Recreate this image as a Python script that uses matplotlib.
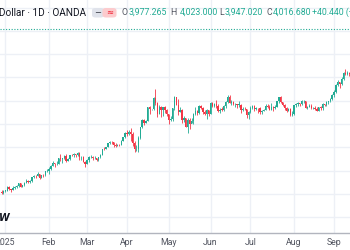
import matplotlib
matplotlib.use("Agg")
import matplotlib.pyplot as plt
from matplotlib.patches import FancyBboxPatch
import numpy as np
import pandas as pd

# ---- data (XAU/USD daily) ----
start_date = "2024-12-30"
end_date = "2025-09-11"
opens = [2621, 2606, 2624, 2625, 2658, 2640, 2635, 2649, 2661, 2669, 2690, 2663, 2677, 2697, 2715, 2702, 2708, 2745, 2755, 2754, 2770, 2740, 2763, 2760, 2794,
         2798, 2815, 2842, 2867, 2856, 2861, 2907, 2898, 2905, 2928, 2882, 2897, 2935, 2934, 2939, 2936, 2951, 2915, 2916, 2876,
         2858, 2893, 2918, 2920, 2910, 2910, 2890, 2916, 2934, 2988, 2984, 3001, 3034, 3048, 3044, 3023, 3011, 3020, 3019, 3057, 3085,
         3124, 3113, 3134, 3114, 3037, 2982, 2982, 3082, 3175, 3237, 3210, 3229, 3343, 3327, 3327, 3424, 3380, 3288, 3349, 3319, 3343, 3317,
         3288, 3239, 3241, 3334, 3431, 3365, 3306, 3325, 3235, 3249, 3178, 3239, 3202, 3229, 3289, 3314, 3294, 3357, 3342, 3301, 3288, 3318,
         3289, 3381, 3353, 3373, 3352, 3310, 3325, 3323, 3355, 3386, 3433, 3385, 3389, 3369, 3369, 3368, 3368, 3323, 3332, 3328, 3274,
         3303, 3338, 3357, 3326, 3337, 3335, 3301, 3313, 3325, 3355, 3343, 3324, 3347, 3339, 3350, 3397, 3431, 3388, 3368, 3337, 3314, 3326, 3275,
         3289, 3363, 3373, 3381, 3370, 3396, 3398, 3342, 3348, 3356, 3335, 3336, 3332, 3315, 3348, 3339, 3372, 3365, 3393, 3397, 3416,
         3448, 3477, 3533, 3559, 3546, 3587, 3636, 3627, 3640]
highs = [2634, 2630, 2633, 2665, 2665, 2646, 2665, 2671, 2675, 2697, 2694, 2680, 2700, 2725, 2717, 2718, 2746, 2763, 2763, 2786, 2772, 2765, 2770, 2799, 2817,
         2830, 2845, 2882, 2870, 2886, 2911, 2942, 2910, 2933, 2943, 2906, 2936, 2947, 2955, 2943, 2957, 2956, 2930, 2923, 2883,
         2896, 2928, 2931, 2926, 2930, 2912, 2921, 2940, 2990, 3005, 3002, 3038, 3055, 3057, 3047, 3036, 3033, 3033, 3060, 3087, 3128,
         3149, 3149, 3168, 3136, 3055, 3023, 3099, 3176, 3245, 3245, 3232, 3346, 3357, 3331, 3430, 3500, 3386, 3368, 3352, 3350, 3353, 3328,
         3290, 3269, 3336, 3437, 3435, 3414, 3347, 3327, 3266, 3252, 3252, 3253, 3250, 3296, 3345, 3325, 3366, 3366, 3350, 3325, 3330, 3325,
         3393, 3392, 3385, 3403, 3375, 3340, 3349, 3360, 3396, 3446, 3451, 3403, 3396, 3377, 3374, 3398, 3370, 3347, 3350, 3329, 3310,
         3358, 3365, 3366, 3345, 3342, 3345, 3317, 3330, 3369, 3375, 3366, 3377, 3352, 3361, 3402, 3434, 3439, 3393, 3373, 3345, 3334, 3334, 3315,
         3363, 3385, 3390, 3385, 3409, 3409, 3400, 3358, 3369, 3375, 3347, 3358, 3345, 3350, 3351, 3379, 3376, 3394, 3398, 3423, 3454,
         3490, 3540, 3578, 3563, 3600, 3646, 3674, 3658, 3650]
lows = [2597, 2603, 2620, 2624, 2634, 2615, 2631, 2646, 2655, 2658, 2656, 2660, 2671, 2695, 2696, 2697, 2704, 2741, 2740, 2752, 2730, 2736, 2746, 2754, 2788,
        2772, 2809, 2839, 2834, 2852, 2860, 2880, 2864, 2896, 2876, 2880, 2895, 2922, 2920, 2919, 2929, 2889, 2894, 2871, 2833,
        2856, 2878, 2905, 2895, 2896, 2880, 2880, 2906, 2932, 2976, 2982, 2999, 3027, 3030, 2999, 3002, 3008, 3012, 3017, 3055, 3077,
        3100, 3104, 3054, 3016, 2957, 2970, 2957, 3073, 3167, 3194, 3205, 3228, 3283, 3320, 3325, 3368, 3260, 3284, 3265, 3268, 3297, 3269,
        3202, 3223, 3228, 3324, 3365, 3280, 3304, 3208, 3216, 3171, 3121, 3154, 3206, 3203, 3276, 3278, 3288, 3332, 3286, 3276, 3245, 3271,
        3289, 3343, 3346, 3339, 3307, 3293, 3316, 3315, 3338, 3385, 3381, 3366, 3362, 3347, 3340, 3347, 3295, 3312, 3317, 3255, 3247,
        3297, 3331, 3311, 3322, 3296, 3287, 3283, 3309, 3322, 3340, 3320, 3319, 3310, 3333, 3345, 3383, 3381, 3351, 3325, 3301, 3308, 3268, 3268,
        3281, 3346, 3354, 3358, 3366, 3380, 3341, 3331, 3344, 3331, 3330, 3323, 3315, 3311, 3324, 3321, 3351, 3351, 3370, 3386, 3408,
        3436, 3470, 3525, 3511, 3533, 3581, 3620, 3620, 3615]
closes = [2606, 2624, 2630, 2658, 2640, 2635, 2649, 2661, 2669, 2690, 2663, 2677, 2697, 2715, 2702, 2708, 2745, 2755, 2754, 2770, 2740, 2763, 2760, 2794, 2798,
          2815, 2842, 2867, 2856, 2861, 2907, 2898, 2905, 2928, 2882, 2897, 2935, 2934, 2939, 2936, 2951, 2915, 2916, 2876, 2858,
          2893, 2918, 2920, 2910, 2910, 2890, 2916, 2934, 2988, 2984, 3001, 3034, 3048, 3044, 3023, 3011, 3020, 3019, 3057, 3085, 3124,
          3113, 3134, 3114, 3037, 2982, 2982, 3082, 3175, 3237, 3210, 3229, 3343, 3327, 3327, 3424, 3380, 3288, 3349, 3319, 3343, 3317, 3288,
          3239, 3241, 3334, 3431, 3365, 3306, 3325, 3235, 3249, 3178, 3239, 3202, 3229, 3289, 3314, 3294, 3357, 3342, 3301, 3288, 3318, 3289,
          3381, 3353, 3373, 3352, 3310, 3325, 3323, 3355, 3386, 3433, 3385, 3389, 3369, 3369, 3368, 3368, 3323, 3332, 3328, 3274, 3303,
          3338, 3357, 3326, 3337, 3335, 3301, 3313, 3325, 3355, 3343, 3324, 3347, 3339, 3350, 3397, 3431, 3388, 3368, 3337, 3314, 3326, 3275, 3289,
          3363, 3373, 3381, 3370, 3396, 3398, 3342, 3348, 3356, 3335, 3336, 3332, 3315, 3348, 3339, 3372, 3365, 3393, 3397, 3416, 3448,
          3477, 3533, 3559, 3546, 3587, 3636, 3627, 3640, 3634]
last_price = 4016.68
month_labels = ["2025", "Feb", "Mar", "Apr", "May", "Jun", "Jul", "Aug", "Sep"]
price_grid = [2400, 2600, 2800, 3000, 3200, 3400, 3600, 3800, 4000, 4200]
header_title = "Gold Spot / U.S. Dollar · 1D · OANDA"
ohlc_labels = ["O", "H", "L", "C"]
ohlc_values = ["3,977.265", "4,023.000", "3,947.020", "4,016.680"]
change_text = "+40.440 (+1.02%)"

UP = "#22ab94"
DOWN = "#f23645"
GRID = "#edf0f6"
TXT = "#131722"
FONT = "Roboto"
HFS = 6.3

dates = pd.bdate_range(start_date, end_date)
n = min(len(dates), len(closes))
dates = dates[:n]
o = np.array(opens[:n], float); h = np.array(highs[:n], float)
l = np.array(lows[:n], float); c = np.array(closes[:n], float)
x = np.arange(n)

W, H = 350, 250
fig = plt.figure(figsize=(3.5, 2.5), dpi=100)
fig.patch.set_facecolor("white")
ax = fig.add_axes([0, 17 / H, 1, 233 / H])
ax.set_facecolor("white")

# month ticks: first bar of each month from Jan 2025
tick_pos = []
seen = set()
for i, d in enumerate(dates):
    key = (d.year, d.month)
    if d.year == 2025 and key not in seen:
        seen.add(key)
        tick_pos.append(i)
tick_pos = tick_pos[:len(month_labels)]

jan_idx = tick_pos[0]
ax.set_xlim(jan_idx - 5.3 / 1.9, jan_idx + 344.7 / 1.9)
ax.set_ylim(2265, 4265)

for p in price_grid:
    ax.axhline(p, color=GRID, lw=1.0, zorder=0)
for t in tick_pos:
    ax.axvline(t, color=GRID, lw=1.0, zorder=0)

cols = np.where(c >= o, UP, DOWN)
ax.vlines(x, l, h, colors=cols, lw=0.6, zorder=2)
body_lo = np.minimum(o, c)
body_h = np.maximum(np.abs(c - o), 3)
ax.bar(x, body_h, bottom=body_lo, width=0.72, color=cols, linewidth=0, zorder=3)

ax.axhline(last_price, color=UP, lw=0.8, ls=(0, (1, 1.5)), zorder=1)

ax.set_xticks(tick_pos)
ax.set_xticklabels(month_labels, fontsize=6.3, color="#50535e", family=FONT)
ax.tick_params(axis="x", length=0, pad=3.5)
ax.set_yticks([])
for s in ["top", "left", "right"]:
    ax.spines[s].set_visible(False)
ax.spines["bottom"].set_color("#b2b5be")
ax.spines["bottom"].set_linewidth(1.0)

def fx(px):
    return px / W
def fy(py):
    return 1 - py / H

# header
fig.text(fx(85.5), fy(12.5), header_title, fontsize=7.2, color=TXT, va="center", ha="right", family=FONT)
# pills
fig.patches.append(FancyBboxPatch((fx(92), fy(17.5)), fx(12), 9.5 / H, boxstyle="round,pad=0,rounding_size=0.01",
                                  transform=fig.transFigure, fc="#e0e3eb", ec="none"))
fig.patches.append(FancyBboxPatch((fx(102.5), fy(17.5)), fx(14), 9.5 / H, boxstyle="round,pad=0,rounding_size=0.01",
                                  transform=fig.transFigure, fc="#fccbcd", ec="none"))
fig.text(fx(97.5), fy(12.7), "−", fontsize=6, color="#50535e", ha="center", va="center", family="DejaVu Sans", weight="bold")
fig.text(fx(109.5), fy(12.7), "≈", fontsize=6, color=DOWN, ha="center", va="center", family="DejaVu Sans", weight="bold")

lab_x = [121.5, 170.5, 219, 266.5]
val_x = [129, 179.5, 225, 273]
for lx, vx, lab, val in zip(lab_x, val_x, ohlc_labels, ohlc_values):
    fig.text(fx(lx), fy(12.5), lab, fontsize=HFS, color="#50535e", va="center", ha="left", family=FONT)
    fig.text(fx(vx), fy(12.5), val, fontsize=HFS, color=UP, va="center", ha="left", family=FONT)
fig.text(fx(312), fy(12.5), change_text, fontsize=HFS, color=UP, va="center", ha="left", family=FONT)

# logo fragment
fig.text(fx(-1), fy(218), "W", fontsize=7, color=TXT, weight="bold", style="italic", va="center", ha="left", family="DejaVu Sans")

fig.savefig("out.png", dpi=100, facecolor="white")
